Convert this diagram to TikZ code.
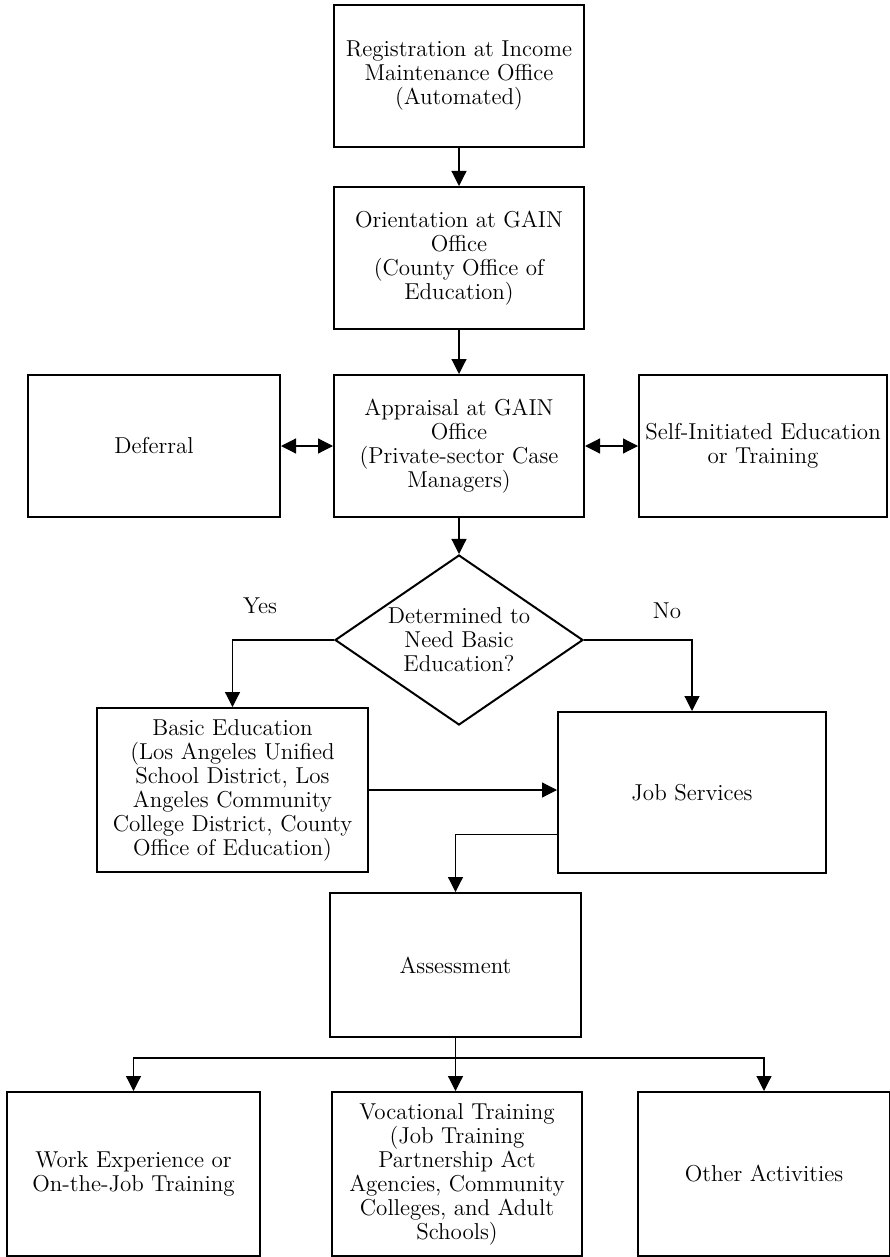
\documentclass[tikz,border=0pt]{standalone}
\usetikzlibrary{positioning,shapes.geometric,arrows.meta}

\tikzset{
  box/.style={draw, line width=1pt, minimum width=125pt, minimum height=71pt,
    align=center, inner sep=2pt, font=\fontsize{11.5}{12}\selectfont},
  decision/.style={draw, diamond, line width=1pt, minimum width=124pt,
    minimum height=85pt, inner sep=0pt},
  tag/.style={font=\fontsize{11.5}{12}\selectfont, align=center},
  flow/.style={line width=0.6pt, -{Triangle[width=7.5pt,length=7.5pt]}},
  twoway/.style={line width=0.6pt,
    {Triangle[width=7.5pt,length=7.5pt]}-{Triangle[width=7.5pt,length=7.5pt]}},
}

\begin{document}
\begin{tikzpicture}[x=0.5pt, y=-0.5pt]
		\useasboundingbox (0,0) rectangle (889,1257);

		% Define nodes
		\node[box] (reg) at (459,76) {Registration at Income\\Maintenance Office\\(Automated)};
		\node[box, below=19pt of reg] (orient) {Orientation at GAIN\\Office\\(County Office of\\Education)};
		\node[box, below=22pt of orient] (appr) {Appraisal at GAIN\\Office\\(Private-sector Case\\Managers)};
		\node[box, left=26pt of appr, minimum width=126pt] (defer) {Deferral};
		\node[box, right=26.5pt of appr, minimum width=124pt] (self) {Self-Initiated Education\\or Training};
		\node[decision, below=18pt of appr] (need) {};
		\node[tag] (needtext) at (need) {Determined to\\Need Basic\\Education?};
		\node[tag] (yes) at (260,606) {Yes};
		\node[tag] (no) at (667,611) {No};
		\node[box, minimum width=135.5pt, minimum height=82pt] (basic) at (232.5,790)
			{Basic Education\\(Los Angeles Unified\\School District, Los\\Angeles Community\\College District, County\\Office of Education)};
		\node[box, minimum width=134pt, minimum height=80.5pt] (jobs) at (692,792.5) {Job Services};
		\node[box, minimum width=125.5pt, minimum height=72pt] (assess) at (455.5,965) {Assessment};
		\node[box, minimum width=126.5pt, minimum height=82pt] (work) at (133.5,1174) {Work Experience or\\On-the-Job Training};
		\node[box, minimum height=82pt, right=35pt of work] (voc)
			{Vocational Training\\(Job Training\\Partnership Act\\Agencies, Community\\Colleges, and Adult\\Schools)};
		\node[box, minimum width=126pt, minimum height=82pt, right=27pt of voc] (other) {Other Activities};

		% Connect the nodes
		\draw[flow] (reg) -- (orient);
		\draw[flow] (orient) -- (appr);
		\draw[twoway] (defer) -- (appr);
		\draw[twoway] (appr) -- (self);
		\draw[flow] (appr) -- (need);
		\draw[flow] (need.west) -| (basic.north);
		\draw[flow] (need.east) -| (jobs.north);
		\draw[flow] (basic.east) -- (basic.east -| jobs.west);
		\draw[flow] ([yshift=-21pt]jobs.west) -| (assess.north);
		\draw[line width=0.6pt] (assess.south) -- ++(0,20) coordinate (split);
		\draw[flow] (split) -| (work.north);
		\draw[flow] (split) -- (split |- voc.north);
		\draw[flow] (split) -| (other.north);
	\end{tikzpicture}
\end{document}
